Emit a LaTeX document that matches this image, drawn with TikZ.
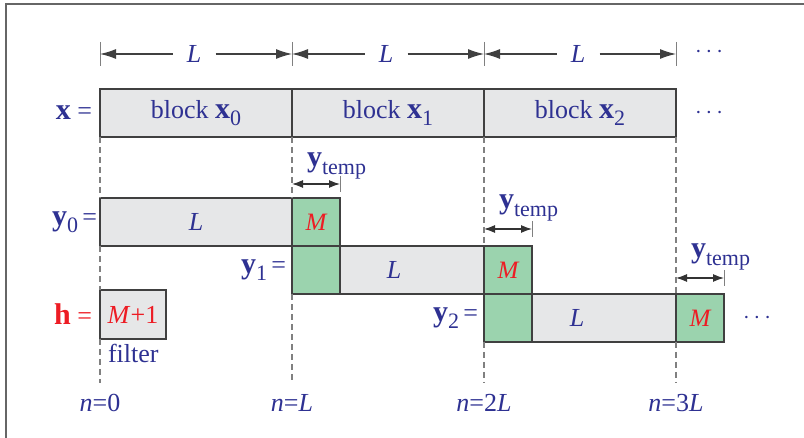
\documentclass[tikz,border=0pt]{standalone}
\usepackage{fontspec}
\setmainfont{Liberation Serif}
\usetikzlibrary{arrows.meta,positioning}

\definecolor{txtblue}{RGB}{46,49,146}
\definecolor{hred}{RGB}{237,28,36}
\definecolor{boxgray}{RGB}{230,231,232}
\definecolor{boxgreen}{RGB}{155,211,174}
\definecolor{edgegray}{RGB}{64,64,64}

\newcommand{\bvec}[1]{{\fontsize{15}{17}\selectfont\bfseries #1}}
\newcommand{\lsub}[1]{\raisebox{-0.6ex}{\fontsize{11}{12}\selectfont #1}}

\begin{document}
\begin{tikzpicture}[x=0.5pt, y=-0.5pt, node distance=0pt,
    font=\fontsize{13}{15}\selectfont, text=txtblue,
    every node/.style={outer sep=0pt},
    blk/.style={draw=edgegray, line width=0.75pt, fill=boxgray, minimum width=96pt, minimum height=24pt, inner sep=0pt},
    lbox/.style={blk, minimum width=72pt},
    mbox/.style={blk, fill=boxgreen, minimum width=24pt, text=hred, font=\fontsize{12.5}{14}\selectfont\itshape},
    hbox/.style={blk, minimum width=33pt, minimum height=24.5pt, text=hred},
    eqlabel/.style={inner sep=0pt},
    colline/.style={draw=black!50, line width=0.6pt, dash pattern=on 3pt off 2pt},
    dimtick/.style={draw=black!50, line width=0.5pt},
    dimarrow/.style={-{Latex[length=8pt,width=5pt]}, draw=black!75, line width=0.6pt},
    tmparrow/.style={{Latex[length=5.5pt,width=4pt]}-{Latex[length=5.5pt,width=4pt]}, draw=black!80, line width=0.6pt}]

\useasboundingbox (0,0) rectangle (804,438);
\draw[black!60, line width=1pt] (6,438) -- (6,4.5) -- (804,4.5);

% input blocks
\node[blk, anchor=north west] (x0) at (100,89) {block \bvec{x}\lsub{0}};
\node[blk, right=of x0] (x1) {block \bvec{x}\lsub{1}};
\node[blk, right=of x1] (x2) {block \bvec{x}\lsub{2}};
\node[eqlabel, left=4pt of x0] (xeq) {\bvec{x} =};
\node (xdots) at (709,113) {$\cdots$};

% block lengths
\foreach \i in {0,...,3}
  \coordinate (t\i) at ({100+192*\i},54);
\foreach \i in {0,...,3}
  \draw[dimtick] (t\i) ++(0,-12) -- ++(0,24);
\foreach \i [evaluate=\i as \j using int(\i+1)] in {0,1,2} {
  \node[minimum width=21.5pt, inner sep=0pt] (L\i) at ({194+192*\i},54) {\textit{L}};
  \draw[dimarrow] (L\i) -- (t\i);
  \draw[dimarrow] (L\i) -- (t\j);
}
\node (dimdots) at (709,52) {$\cdots$};

% output blocks
\node[blk, anchor=north west] (y0L) at (100,198) {};
\node[mbox, right=of y0L] (y0M) {M};
\node[mbox, below=of y0M] (y1M) {};
\node[lbox, right=of y1M] (y1L) {};
\node[mbox, right=of y1L] (y1T) {M};
\node[mbox, below=of y1T] (y2M) {};
\node[lbox, right=of y2M] (y2L) {};
\node[mbox, right=of y2L] (y2T) {M};
\node (y0txt) at (x0.center |- y0L.center) {\textit{L}};
\node (y1txt) at ([xshift=3pt]x1.center |- y1L.center) {\textit{L}};
\node (y2txt) at ([xshift=-1.5pt]x2.center |- y2L.center) {\textit{L}};
\node[eqlabel, left=1.5pt of y0L] (y0eq) {\bvec{y}\lsub{0}\,=};
\node[eqlabel, left=3pt of y1M] (y1eq) {\bvec{y}\lsub{1}\,=};
\node[eqlabel, left=3pt of y2M] (y2eq) {\bvec{y}\lsub{2}\,=};
\node (y2dots) at (757,318) {$\cdots$};

% overlap parts
\foreach \b/\k/\a/\s in {y0M/0/7/15.5, y1T/1/8.5/18.5, y2T/2/8/18} {
  \draw[tmparrow] ([yshift=\a pt]\b.north west) -- ([yshift=\a pt]\b.north east);
  \draw[dimtick] ([yshift=\a pt]\b.north east) ++(0,-8) -- ++(0,16);
  \node[anchor=base west, inner sep=0pt] (yt\k) at ([xshift=7.5pt,yshift=\s pt]\b.north west) {\bvec{y}\lsub{temp}};
}

% filter
\node[hbox, anchor=north west] (h) at (100,290) {\textit{M}+1};
\node[eqlabel, left=4pt of h, text=hred] (heq) {\bvec{h} =};
\node[anchor=north west, inner sep=1pt] (hname) at ([xshift=3pt,yshift=-1.5pt]h.south west) {filter};

% time axis
\foreach \i/\v in {0/0, 1/\textit{L}, 2/2\textit{L}, 3/3\textit{L}} {
  \coordinate (b\i) at ({100+192*\i},383);
  \node (n\i) at ({100+192*\i},403) {\textit{n}=\v};
}
\draw[colline] (x0.south west) -- (y0L.north west);
\draw[colline] (y0L.south west) -- (h.north west);
\draw[colline] (h.south west) -- (b0);
\draw[colline] (x0.south east) -- (y0M.north west);
\draw[colline] (y1M.south west) -- (b1);
\draw[colline] (x1.south east) -- (y1T.north west);
\draw[colline] (y2M.south west) -- (b2);
\draw[colline] (x2.south east) -- (y2T.north west);
\draw[colline] (y2T.south west) -- (b3);
\end{tikzpicture}
\end{document}
